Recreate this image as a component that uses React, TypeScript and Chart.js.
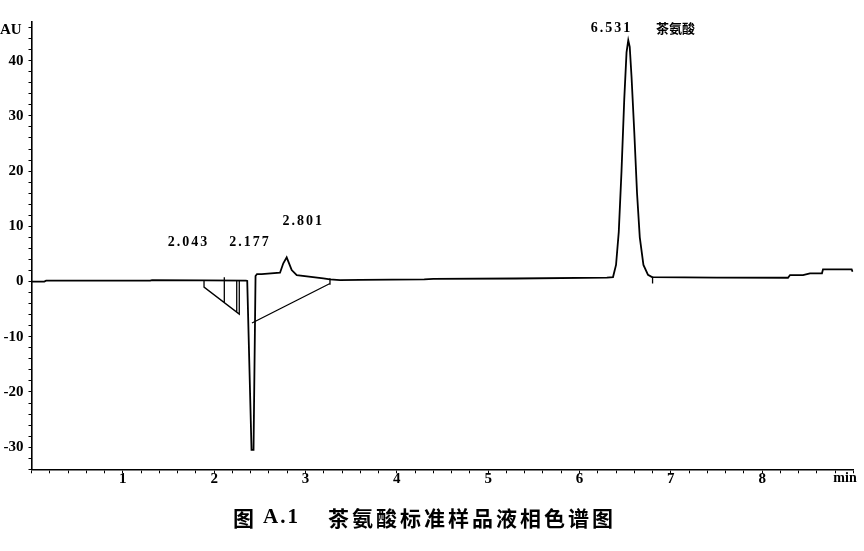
import React, { useEffect, useRef } from 'react';
import { Chart, registerables } from 'chart.js';

Chart.register(...registerables);

// Chromatogram trace: retention time (min) and signal (AU)
const traceTime = [
  0, 0.14, 0.16, 1.3, 1.32, 1.9, 2.348, 2.362, 2.409, 2.431, 2.453, 2.469, 2.52, 2.721,
  2.757, 2.794, 2.82, 2.849, 2.904, 3.195, 3.268, 3.378, 3.6, 4.3, 4.4, 5.3, 6.3, 6.367,
  6.4, 6.43, 6.46, 6.49, 6.515, 6.534, 6.55, 6.57, 6.6, 6.63, 6.66, 6.7, 6.75, 6.794,
  7.5, 8.283, 8.305, 8.447, 8.524, 8.655, 8.666, 8.98, 8.99,
];
const traceAU = [
  0, 0, 0.15, 0.15, 0.25, 0.2, 0.15, 0.1, -30.5, -30.5, 1.0, 1.36, 1.36, 1.59,
  3.3, 4.38, 3.3, 2.08, 1.18, 0.58, 0.4, 0.25, 0.3, 0.4, 0.5, 0.55, 0.7, 0.81,
  3.0, 9.0, 20.0, 33.0, 41.5, 43.7, 42.5, 37.0, 27.0, 16.0, 8.0, 3.0, 1.2, 0.81,
  0.7, 0.69, 1.18, 1.18, 1.49, 1.49, 2.2, 2.2, 1.77,
];

// Integration baselines / drop lines (null = break)
const markTime = [
  1.889, 1.889, 2.275, 2.275, 2.275,
  2.111, 2.111, 2.111,
  2.247, 2.247, 2.247,
  2.414, 3.268, 3.268,
  3.268, 3.268, 3.268,
  6.8, 6.8,
];
const markAU: (number | null)[] = [
  0.15, -1.0, -5.9, 0.15, null,
  0.8, -3.82, null,
  0.15, -5.54, null,
  -7.5, -0.35, null,
  0.6, -0.6, null,
  0.9, -0.35,
];

// Peak labels (text anchored in data coordinates)
const peakText = ['2.043', '2.177', '2.801', '6.531'];
const peakLabelTime = [1.719, 2.392, 2.976, 6.351];
const peakLabelAU = [7.03, 7.03, 10.83, 45.85];
const compoundName = '茶氨酸';
const compoundLabelTime = 7.051;
const compoundLabelAU = 45.85;

const xTickLabels = [1, 2, 3, 4, 5, 6, 7, 8];
const yTickLabels = [-30, -20, -10, 0, 10, 20, 30, 40];
const xUnit = 'min';
const yUnit = 'AU';
const figNo = '图';
const figNum = 'A.1';
const figTitle = '茶氨酸标准样品液相色谱图';

const SERIF = '"Liberation Serif", "DejaVu Serif", serif';
const CJK = '"Noto Sans CJK SC", "Noto Sans", sans-serif';

const textPlugin = {
  id: 'chromText',
  afterDraw(chart: any) {
    const { ctx } = chart;
    const x = chart.scales.x;
    const y = chart.scales.y;
    ctx.save();
    ctx.fillStyle = '#000';
    ctx.textBaseline = 'middle';

    // peak labels
    ctx.font = `bold 14px ${SERIF}`;
    (ctx as any).letterSpacing = '2px';
    ctx.textAlign = 'center';
    peakText.forEach((t, i) => {
      ctx.fillText(t, x.getPixelForValue(peakLabelTime[i]), y.getPixelForValue(peakLabelAU[i]));
    });
    (ctx as any).letterSpacing = '0px';
    ctx.font = `bold 13px ${CJK}`;
    ctx.fillText(compoundName, x.getPixelForValue(compoundLabelTime), y.getPixelForValue(compoundLabelAU));

    // axis units
    ctx.font = `bold 15px ${SERIF}`;
    ctx.textAlign = 'left';
    ctx.fillText(yUnit, 0, 30);
    ctx.font = `bold 14px ${SERIF}`;
    ctx.textAlign = 'center';
    ctx.fillText(xUnit, 845, 478);

    // figure caption
    ctx.textAlign = 'left';
    ctx.font = `bold 21px ${CJK}`;
    ctx.fillText(figNo, 233, 518);
    ctx.font = `bold 21px ${SERIF}`;
    (ctx as any).letterSpacing = '2px';
    ctx.fillText(figNum, 263, 518);
    ctx.font = `bold 21px ${CJK}`;
    (ctx as any).letterSpacing = '3px';
    ctx.fillText(figTitle, 328, 518);
    (ctx as any).letterSpacing = '0px';
    ctx.restore();
  },
};

export default function App() {
  const canvasRef = useRef<HTMLCanvasElement>(null);

  useEffect(() => {
    if (!canvasRef.current) return;
    const tracePts = traceTime.map((t, i) => ({ x: t, y: traceAU[i] }));
    const markPts = markTime.map((t, i) => ({ x: t, y: markAU[i] }));
    const tickFont = { family: SERIF, size: 15, weight: 'bold' as const };

    const chart = new Chart(canvasRef.current, {
      type: 'line',
      data: {
        datasets: [
          {
            data: tracePts as any,
            borderColor: '#000',
            borderWidth: 1.8,
            pointRadius: 0,
            tension: 0,
            fill: false,
          },
          {
            data: markPts as any,
            borderColor: '#000',
            borderWidth: 1.3,
            pointRadius: 0,
            tension: 0,
            fill: false,
            spanGaps: false,
          },
        ],
      },
      options: {
        responsive: false,
        animation: false,
        layout: { padding: { top: 22, right: 10.5, left: 0, bottom: 0 } },
        plugins: {
          legend: { display: false },
          tooltip: { enabled: false },
        },
        scales: {
          x: {
            type: 'linear',
            min: 0,
            max: 9,
            border: { display: true, color: '#000', width: 1.6 },
            grid: { display: true, drawOnChartArea: false, drawTicks: true, tickLength: 4, color: '#000', lineWidth: 1 },
            ticks: {
              stepSize: 0.2,
              autoSkip: false,
              maxRotation: 0,
              includeBounds: false,
              padding: -3,
              color: '#000',
              font: tickFont,
              callback: (v: any) => {
                const r = Math.round(Number(v));
                return Math.abs(Number(v) - r) < 1e-6 && xTickLabels.includes(r) ? String(r) : '';
              },
            },
            afterFit: (s: any) => {
              s.height = 81.7;
            },
          },
          y: {
            type: 'linear',
            min: -34,
            max: 47,
            border: { display: true, color: '#000', width: 1.6 },
            grid: { display: true, drawOnChartArea: false, drawTicks: true, tickLength: 3, color: '#000', lineWidth: 1 },
            ticks: {
              stepSize: 2,
              autoSkip: false,
              includeBounds: false,
              padding: 5,
              color: '#000',
              font: tickFont,
              callback: (v: any) => {
                const r = Math.round(Number(v));
                return Math.abs(Number(v) - r) < 1e-6 && yTickLabels.includes(r) ? String(r) : '';
              },
            },
            afterFit: (s: any) => {
              s.width = 31.5;
            },
          },
        },
      },
      plugins: [textPlugin],
    });
    return () => chart.destroy();
  }, []);

  return (
    <div style={{ position: 'fixed', left: 0, top: 0, width: 864, height: 551, background: '#fff' }}>
      <canvas ref={canvasRef} width={864} height={551} style={{ display: 'block', width: 864, height: 551 }} />
    </div>
  );
}
